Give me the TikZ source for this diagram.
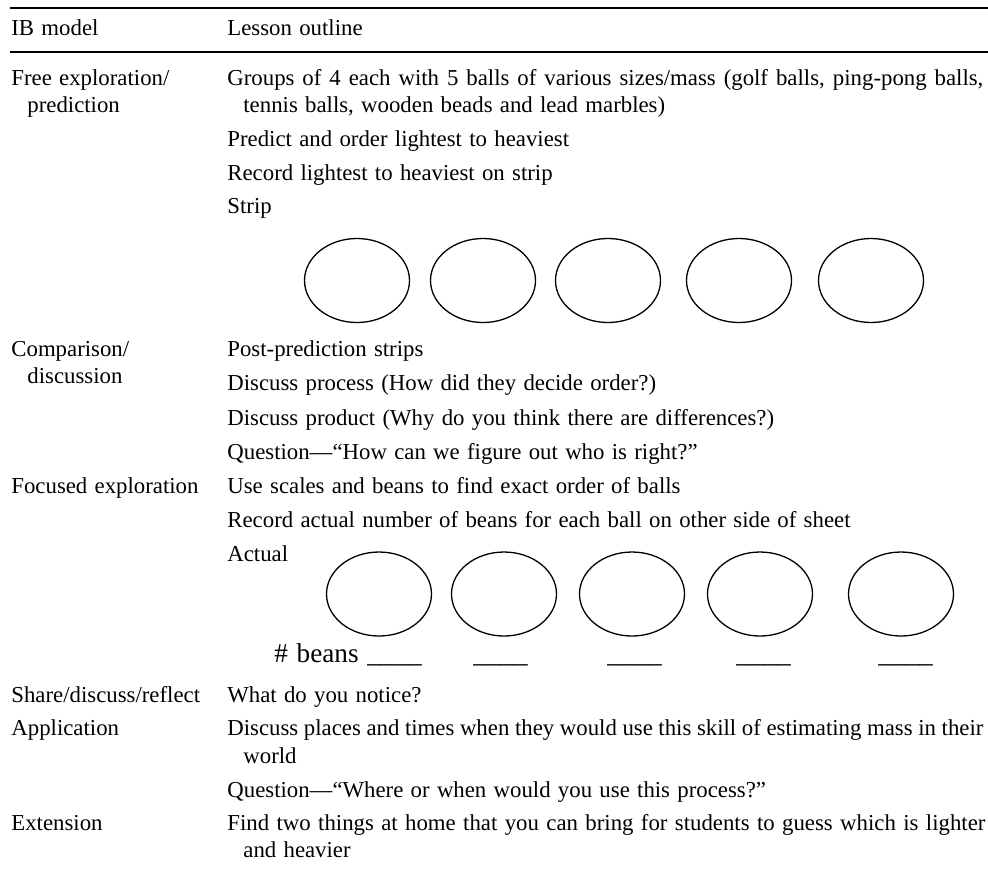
\documentclass[tikz,border=0pt]{standalone}
\usepackage{fontspec}
\setmainfont{Liberation Serif}[WordSpace=1.28]
\usetikzlibrary{shapes.geometric}

\begin{document}
\begin{tikzpicture}[x=0.5pt,y=-0.5pt,
  txt/.style={anchor=base west,inner sep=0pt,font=\fontsize{11.4}{13}\selectfont},
  big/.style={anchor=base west,inner sep=0pt,font=\fontsize{13.6}{16}\selectfont},
  ball/.style={draw,ellipse,line width=0.65pt,minimum width=52.5pt,minimum height=42pt,inner sep=0pt},
  rule/.style={line width=1pt}]
\useasboundingbox (0,0) rectangle (988,868);
\coordinate (tl) at (10,7.5);
\coordinate (tr) at (988,7.5);
\coordinate (ml) at (10,52);
\coordinate (mr) at (988,52);
\draw[rule] (tl) -- (tr);
\draw[rule] (ml) -- (mr);
% header
\node[txt](hmodel) at (11,35){IB model};
\node[txt](houtline) at (227,35){Lesson outline};
% first column
\node[txt](free) at (11,85){Free exploration/};
\node[txt](free2) at (27,112){prediction};
\node[txt](comp) at (11,356){Comparison/};
\node[txt](comp2) at (27,383){discussion};
\node[txt](focus) at (11,493){Focused exploration};
\node[txt](share) at (11,702){Share/discuss/reflect};
\node[txt](appl) at (11,735){Application};
\node[txt](ext) at (11,830){Extension};
% second column (full lines are justified)
\node[txt](groups) at (227,85){\makebox[378pt][s]{Groups of 4 each with 5 balls of various sizes/mass (golf balls, ping-pong balls,}};
\node[txt](groups2) at (243,112){tennis balls, wooden beads and lead marbles)};
\node[txt](predict) at (227,146){Predict and order lightest to heaviest};
\node[txt](record) at (227,180){Record lightest to heaviest on strip};
\node[txt](strip) at (227,213){Strip};
\node[txt](post) at (227,356){Post-prediction strips};
\node[txt](process) at (227,390){Discuss process (How did they decide order?)};
\node[txt](product) at (227,425){Discuss product (Why do you think there are differences?)};
\node[txt](quest) at (227,459){Question—“How can we figure out who is right?”};
\node[txt](scales) at (227,493){Use scales and beans to find exact order of balls};
\node[txt](actrec) at (227,527){Record actual number of beans for each ball on other side of sheet};
\node[txt](actual) at (227,561){Actual};
\node[txt](notice) at (227,702){What do you notice?};
\node[txt](places) at (227,735){\makebox[378pt][s]{Discuss places and times when they would use this skill of estimating mass in their}};
\node[txt](places2) at (243,763){world};
\node[txt](quest2) at (227,797){Question—“Where or when would you use this process?”};
\node[txt](home) at (227,830){\makebox[379pt][s]{Find two things at home that you can bring for students to guess which is lighter}};
\node[txt](home2) at (243,857){and heavier};
% strips
\foreach \i/\x in {1/357,2/483,3/608,4/739,5/871}
  \node[ball](s\i) at (\x,280.5){};
\foreach \i/\x in {1/379,2/504,3/632,4/760,5/901}
  \node[ball](a\i) at (\x,594){};
\node[big](beans) at (274,662){\# beans \_\_\_\_};
\foreach \i/\x in {2/473,3/607,4/736,5/878}
  \node[big](b\i) at (\x,662){\_\_\_\_};
\end{tikzpicture}
\end{document}
